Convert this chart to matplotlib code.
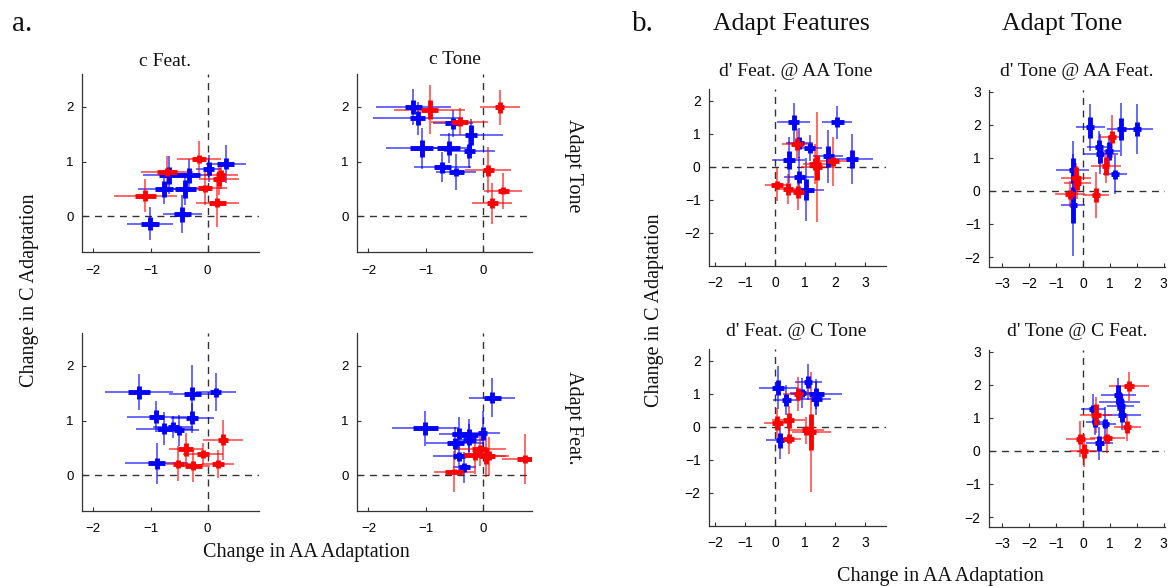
import matplotlib
matplotlib.use("Agg")
import matplotlib.pyplot as plt

# ---------------- data: (x, y, xerr_wide, yerr_wide, xerr_narrow, yerr_narrow)
# Panel a: Change in criterion c
a_cfeat_tone_blue = [(-1.01, -0.13, 0.40, 0.30, 0.15, 0.12), (-0.44, 0.04, 0.35, 0.35, 0.15, 0.14),
                     (-0.77, 0.50, 0.45, 0.28, 0.16, 0.14), (-0.39, 0.50, 0.35, 0.30, 0.18, 0.16),
                     (-0.68, 0.75, 0.45, 0.35, 0.17, 0.15), (-0.33, 0.75, 0.40, 0.30, 0.20, 0.14),
                     (0.02, 0.87, 0.22, 0.25, 0.10, 0.12), (0.32, 0.96, 0.35, 0.35, 0.15, 0.10)]
a_cfeat_tone_red = [(-1.09, 0.38, 0.55, 0.30, 0.18, 0.10), (-0.71, 0.81, 0.45, 0.30, 0.17, 0.07),
                    (-0.15, 1.05, 0.38, 0.32, 0.13, 0.08), (-0.04, 0.51, 0.38, 0.30, 0.12, 0.07),
                    (0.20, 0.69, 0.35, 0.30, 0.10, 0.13), (0.17, 0.25, 0.38, 0.45, 0.15, 0.08),
                    (0.23, 0.75, 0.30, 0.25, 0.08, 0.10)]
a_ctone_tone_blue = [(-1.22, 2.00, 0.65, 0.33, 0.15, 0.13), (-1.14, 1.79, 0.78, 0.30, 0.13, 0.13),
                     (-0.53, 1.70, 0.35, 0.25, 0.13, 0.10), (-0.21, 1.48, 0.55, 0.30, 0.10, 0.18),
                     (-1.07, 1.24, 0.62, 0.38, 0.20, 0.15), (-0.60, 1.25, 0.40, 0.28, 0.20, 0.12),
                     (-0.24, 1.19, 0.45, 0.30, 0.10, 0.13), (-0.71, 0.90, 0.50, 0.28, 0.15, 0.10),
                     (-0.47, 0.81, 0.35, 0.33, 0.13, 0.08)]
a_ctone_tone_red = [(-0.93, 1.95, 0.62, 0.45, 0.15, 0.18), (-0.41, 1.73, 0.50, 0.25, 0.15, 0.08),
                    (0.29, 1.99, 0.35, 0.32, 0.08, 0.10), (0.09, 0.84, 0.40, 0.42, 0.10, 0.10),
                    (0.35, 0.47, 0.33, 0.33, 0.10, 0.07), (0.16, 0.24, 0.35, 0.37, 0.10, 0.09)]
a_cfeat_feat_blue = [(-1.20, 1.52, 0.60, 0.33, 0.19, 0.12), (-0.27, 1.49, 0.40, 0.52, 0.15, 0.12),
                     (0.14, 1.52, 0.35, 0.35, 0.10, 0.08), (-0.90, 1.07, 0.52, 0.28, 0.13, 0.12),
                     (-0.27, 1.05, 0.38, 0.28, 0.10, 0.12), (-0.76, 0.85, 0.50, 0.30, 0.13, 0.10),
                     (-0.60, 0.89, 0.35, 0.20, 0.10, 0.08), (-0.50, 0.82, 0.35, 0.28, 0.08, 0.08),
                     (-0.89, 0.22, 0.55, 0.38, 0.15, 0.10)]
a_cfeat_feat_red = [(-0.38, 0.48, 0.30, 0.30, 0.13, 0.12), (0.27, 0.65, 0.35, 0.37, 0.08, 0.10),
                    (-0.08, 0.39, 0.35, 0.20, 0.10, 0.08), (-0.51, 0.21, 0.22, 0.32, 0.10, 0.08),
                    (-0.25, 0.18, 0.30, 0.30, 0.15, 0.08), (0.18, 0.21, 0.28, 0.25, 0.10, 0.07)]
a_ctone_feat_blue = [(0.16, 1.42, 0.40, 0.36, 0.15, 0.10), (-1.01, 0.86, 0.58, 0.32, 0.22, 0.12),
                     (-0.42, 0.76, 0.35, 0.30, 0.13, 0.10), (-0.24, 0.73, 0.30, 0.30, 0.15, 0.12),
                     (-0.01, 0.77, 0.30, 0.40, 0.08, 0.12), (-0.49, 0.59, 0.50, 0.30, 0.15, 0.10),
                     (-0.24, 0.64, 0.25, 0.30, 0.12, 0.08), (-0.42, 0.35, 0.45, 0.25, 0.10, 0.08),
                     (-0.33, 0.15, 0.20, 0.28, 0.10, 0.08)]
a_ctone_feat_red = [(-0.06, 0.48, 0.45, 0.30, 0.13, 0.08), (0.05, 0.35, 0.40, 0.38, 0.13, 0.15),
                    (-0.15, 0.37, 0.35, 0.35, 0.18, 0.08), (0.72, 0.30, 0.40, 0.45, 0.13, 0.08),
                    (-0.51, 0.07, 0.35, 0.38, 0.15, 0.05), (0.10, 0.36, 0.30, 0.35, 0.10, 0.08)]

# Panel b: Change in d'
b_feat_aatone_blue = [(0.62, 1.34, 0.55, 0.60, 0.18, 0.22), (2.08, 1.34, 0.50, 0.50, 0.22, 0.15),
                      (0.45, 0.21, 0.55, 0.70, 0.20, 0.28), (0.81, 0.71, 0.45, 0.45, 0.15, 0.18),
                      (1.15, 0.56, 0.40, 0.40, 0.18, 0.15), (1.77, 0.32, 0.50, 0.80, 0.18, 0.32),
                      (2.56, 0.24, 0.70, 0.75, 0.20, 0.28), (0.81, -0.31, 0.50, 0.60, 0.18, 0.18),
                      (1.02, -0.70, 0.60, 0.95, 0.28, 0.32)]
b_feat_aatone_red = [(0.72, 0.68, 0.50, 0.45, 0.20, 0.18), (0.05, -0.55, 0.40, 0.50, 0.20, 0.13),
                     (0.42, -0.67, 0.40, 0.45, 0.17, 0.18), (0.78, -0.75, 0.35, 0.55, 0.17, 0.18),
                     (1.40, -0.01, 0.55, 1.65, 0.15, 0.38), (1.32, 0.09, 0.40, 0.60, 0.20, 0.18),
                     (1.94, 0.16, 0.45, 0.75, 0.20, 0.13)]
b_tone_aafeat_blue = [(0.27, 1.92, 0.55, 0.70, 0.15, 0.32), (1.43, 1.87, 0.55, 0.80, 0.15, 0.32),
                      (2.01, 1.87, 0.58, 0.75, 0.15, 0.22), (0.61, 1.32, 0.45, 0.50, 0.15, 0.22),
                      (0.64, 1.12, 0.65, 0.60, 0.15, 0.28), (0.97, 1.20, 0.40, 0.45, 0.15, 0.28),
                      (1.19, 0.50, 0.45, 0.60, 0.15, 0.13), (-0.39, 0.62, 0.60, 0.90, 0.13, 0.38),
                      (-0.36, -0.43, 0.45, 1.55, 0.13, 0.55)]
b_tone_aafeat_red = [(1.07, 1.63, 0.45, 0.65, 0.15, 0.18), (0.85, 0.75, 0.55, 0.50, 0.13, 0.28),
                     (-0.27, 0.40, 0.55, 0.45, 0.18, 0.32), (-0.22, 0.25, 0.50, 0.50, 0.15, 0.22),
                     (-0.48, -0.10, 0.55, 0.40, 0.18, 0.13), (0.48, -0.13, 0.50, 0.70, 0.15, 0.22)]
b_feat_ctone_blue = [(0.10, 1.18, 0.65, 0.65, 0.20, 0.22), (1.10, 1.36, 0.45, 0.55, 0.13, 0.18),
                     (0.38, 0.82, 0.45, 0.45, 0.15, 0.18), (0.89, 1.02, 0.40, 0.45, 0.13, 0.13),
                     (1.38, 0.98, 0.85, 0.45, 0.25, 0.18), (1.38, 0.84, 0.50, 0.50, 0.18, 0.22),
                     (0.16, -0.41, 0.45, 0.55, 0.13, 0.22)]
b_feat_ctone_red = [(0.78, 0.99, 0.50, 0.50, 0.15, 0.18), (0.08, 0.11, 0.45, 0.45, 0.18, 0.22),
                    (0.45, 0.19, 0.55, 0.45, 0.18, 0.22), (0.45, -0.36, 0.40, 0.45, 0.18, 0.13),
                    (1.02, -0.11, 0.60, 0.40, 0.13, 0.13), (1.21, -0.16, 0.65, 1.80, 0.15, 0.55)]
b_tone_cfeat_blue = [(1.31, 1.70, 0.65, 0.50, 0.15, 0.28), (1.36, 1.49, 0.75, 0.45, 0.15, 0.22),
                     (1.41, 1.37, 0.50, 0.40, 0.15, 0.22), (1.45, 1.09, 0.70, 0.45, 0.15, 0.22),
                     (0.36, 1.27, 0.45, 0.45, 0.15, 0.13), (0.46, 0.87, 0.35, 0.40, 0.13, 0.15),
                     (0.82, 0.82, 0.40, 0.50, 0.13, 0.13), (0.61, 0.23, 0.50, 0.50, 0.18, 0.22)]
b_tone_cfeat_red = [(1.70, 1.95, 0.75, 0.45, 0.18, 0.15), (0.48, 1.09, 0.60, 0.55, 0.18, 0.32),
                    (1.64, 0.71, 0.50, 0.40, 0.15, 0.18), (0.91, 0.38, 0.65, 0.45, 0.18, 0.13),
                    (-0.10, 0.36, 0.55, 0.55, 0.18, 0.15), (0.02, 0.00, 0.50, 0.50, 0.15, 0.22)]

a_xticks = [-2, -1, 0]
a_yticks = [0, 1, 2]
b_left_xticks = [-2, -1, 0, 1, 2, 3]
b_left_yticks = [-2, -1, 0, 1, 2]
b_right_xticks = [-3, -2, -1, 0, 1, 2, 3]
b_right_yticks = [-2, -1, 0, 1, 2, 3]

BLUE = "#0000ff"
RED = "#ff0000"
SERIF = "Liberation Serif"
SANS = "Liberation Sans"

W, H = 1174, 586
fig = plt.figure(figsize=(W / 100, H / 100), dpi=100)


def make_ax(l, t, r, b):
    return fig.add_axes([l / W, 1 - b / H, (r - l) / W, (b - t) / H])


def draw(ax, blue, red, xlim, ylim, xticks, yticks, fs, xpad):
    ax.axhline(0, color="#333333", lw=1.0, ls=(0, (5, 4)), zorder=1)
    ax.axvline(0, color="#333333", lw=1.0, ls=(0, (5, 4)), zorder=1)
    for data, col in ((blue, BLUE), (red, RED)):
        xs = [d[0] for d in data]
        ys = [d[1] for d in data]
        xw = [d[2] for d in data]
        yw = [d[3] for d in data]
        xn = [d[4] for d in data]
        yn = [d[5] for d in data]
        ax.errorbar(xs, ys, xerr=xw, yerr=yw, fmt="none", ecolor=col,
                    elinewidth=1.1, alpha=0.75, capsize=0, zorder=2)
        ax.errorbar(xs, ys, xerr=xn, yerr=yn, fmt="none", ecolor=col,
                    elinewidth=3.5, capsize=0, zorder=3)
    ax.set_xlim(*xlim)
    ax.set_ylim(*ylim)
    ax.set_xticks(xticks)
    ax.set_yticks(yticks)
    ax.set_xticklabels([str(v).replace("-", "\u2212") for v in xticks], family=SANS, fontsize=fs)
    ax.set_yticklabels([str(v).replace("-", "\u2212") for v in yticks], family=SANS, fontsize=fs)
    for s in ("top", "right"):
        ax.spines[s].set_visible(False)
    for s in ("left", "bottom"):
        ax.spines[s].set_color("#333333")
        ax.spines[s].set_linewidth(0.9)
    ax.tick_params(direction="in", length=3, width=0.8, color="#333333", pad=6)
    ax.tick_params(axis="x", pad=xpad)


A_XL = (-2.2, 0.9)
A_YL = (-0.65, 2.6)
axa1 = make_ax(82, 74, 259, 252)
draw(axa1, a_cfeat_tone_blue, a_cfeat_tone_red, A_XL, A_YL, a_xticks, a_yticks, 9.5, 9)
axa2 = make_ax(357, 74, 532, 252)
draw(axa2, a_ctone_tone_blue, a_ctone_tone_red, (-2.2, 0.85), A_YL, a_xticks, a_yticks, 9.5, 9)
axa3 = make_ax(82, 333, 259, 511)
draw(axa3, a_cfeat_feat_blue, a_cfeat_feat_red, A_XL, A_YL, a_xticks, a_yticks, 9.5, 9)
axa4 = make_ax(357, 333, 532, 511)
draw(axa4, a_ctone_feat_blue, a_ctone_feat_red, (-2.2, 0.85), A_YL, a_xticks, a_yticks, 9.5, 9)

B_LX = (-2.2, 3.7)
B_LY = (-3.0, 2.35)
B_RX = (-3.5, 3.05)
B_RY = (-2.3, 3.05)
axb1 = make_ax(709, 89, 886, 266)
draw(axb1, b_feat_aatone_blue, b_feat_aatone_red, B_LX, B_LY, b_left_xticks, b_left_yticks, 10, 7)
axb2 = make_ax(989, 90, 1165, 267)
draw(axb2, b_tone_aafeat_blue, b_tone_aafeat_red, B_RX, B_RY, b_right_xticks, b_right_yticks, 10, 7)
axb3 = make_ax(709, 349, 886, 526)
draw(axb3, b_feat_ctone_blue, b_feat_ctone_red, B_LX, B_LY, b_left_xticks, b_left_yticks, 10, 7)
axb4 = make_ax(989, 350, 1165, 527)
draw(axb4, b_tone_cfeat_blue, b_tone_cfeat_red, B_RX, B_RY, b_right_xticks, b_right_yticks, 10, 7)


def ftext(x, y, s, size, rot=0, ha="center", va="center"):
    fig.text(x / W, 1 - y / H, s, fontsize=size, family=SERIF, rotation=rot,
             ha=ha, va=va, color="#111111")


ftext(12, 24, "a.", 21, ha="left")
ftext(632, 24, "b.", 21, ha="left")
ftext(791, 24, "Adapt Features", 18.5)
ftext(1062, 24, "Adapt Tone", 18.5)
ftext(165, 62, "c Feat.", 14)
ftext(455, 59, "c Tone", 14)
ftext(573, 166, "Adapt Tone", 14.5, rot=-90)
ftext(573, 418, "Adapt Feat.", 14.5, rot=-90)
ftext(30, 290, "Change in C Adaptation", 14.5, rot=90)
ftext(306, 552, "Change in AA Adaptation", 14.5)
ftext(796, 72, "d' Feat. @ AA Tone", 14)
ftext(1077, 72, "d' Tone @ AA Feat.", 14)
ftext(796, 332, "d' Feat. @ C Tone", 14)
ftext(1077, 332, "d' Tone @ C Feat.", 14)
ftext(654, 310, "Change in C Adaptation", 14.5, rot=90)
ftext(940, 576, "Change in AA Adaptation", 14.5)

fig.savefig("out.png", dpi=100, facecolor="white")
